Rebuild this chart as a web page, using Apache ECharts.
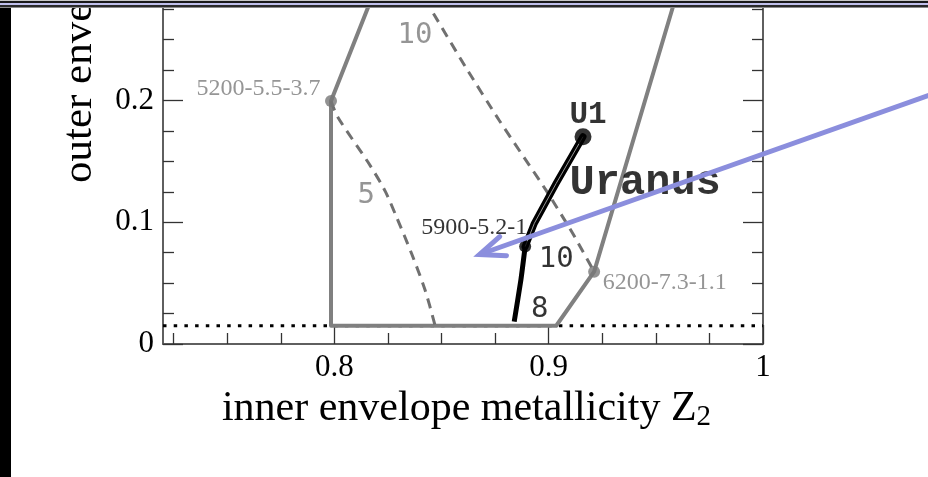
<!DOCTYPE html>
<html>
<head>
<meta charset="utf-8">
<script src="https://cdn.jsdelivr.net/npm/echarts@6/dist/echarts.min.js"></script>
<style>
  html, body { margin: 0; padding: 0; background: #fff; overflow: hidden; }
  #chart { width: 928px; height: 477px; }
</style>
</head>
<body>
<div id="chart"></div>
<script>
// Inner envelope metallicity Z2 (x) against outer envelope metallicity Z1 (y)

// Solid boundary of the allowed region
const boundaryZ2 = [0.8165, 0.7984, 0.7984, 0.9035, 0.9212, 0.9585];
const boundaryZ1 = [0.28, 0.1995, 0.015, 0.015, 0.0594, 0.28];

// Dashed contour "5"
const contour5Z2 = [0.7984, 0.8016, 0.8157, 0.8235, 0.829, 0.8359, 0.8423, 0.847];
const contour5Z1 = [0.1995, 0.1862, 0.1492, 0.1261, 0.1042, 0.0747, 0.0443, 0.015];

// Dashed contour "10"
const contour10Z2 = [0.8462, 0.8611, 0.8768, 0.8988, 0.9111, 0.9212];
const contour10Z1 = [0.2714, 0.2277, 0.1839, 0.1261, 0.0911, 0.0594];

// Uranus model track, from U1 down to the lower boundary
const uranusZ2 = [0.916, 0.9035, 0.8933, 0.889, 0.887, 0.8839];
const uranusZ1 = [0.1702, 0.1319, 0.0991, 0.08, 0.0525, 0.0183];

// Horizontal dotted reference level
const dottedZ2 = [0.72, 1.0];
const dottedZ1 = [0.015, 0.015];

// Annotation arrow (tail, tip)
const arrowZ2 = [1.09, 0.8677];
const arrowZ1 = [0.212, 0.0735];

// Axis ticks
const xMajorTicks = [0.8, 0.9, 1.0];
const xMinorTicks = [0.725, 0.75, 0.775, 0.825, 0.85, 0.875, 0.925, 0.95, 0.975];
const yMajorTicks = [0, 0.1, 0.2];
const yMinorTicks = [0.025, 0.05, 0.075, 0.125, 0.15, 0.175, 0.225, 0.25, 0.275];

const SERIF = 'Liberation Serif';
const MONO = 'Liberation Mono';
const SANSMONO = 'DejaVu Sans Mono';
const GRAY = '#7a7a7a';
const AXIS = '#555555';

const pts = (xs, ys) => xs.map((x, i) => [x, ys[i]]);

const gridBox = { left: 163, right: 165, top: 3, bottom: 133 };

function xAxisDef(gridIndex, ticks, len, labels) {
  return {
    type: 'value', gridIndex, min: 0.72, max: 1.0, position: 'bottom',
    axisLine: { show: true, onZero: false, lineStyle: { color: AXIS, width: 1.5 } },
    axisTick: { show: true, inside: true, length: len, customValues: ticks,
                lineStyle: { color: '#333', width: 1.3 } },
    axisLabel: labels ? {
      show: true, customValues: xMajorTicks, margin: 8,
      fontFamily: SERIF, fontSize: 31, color: '#000',
      formatter: v => String(+v.toFixed(2))
    } : { show: false },
    splitLine: { show: false }
  };
}

function yAxisDef(gridIndex, position, ticks, len, labels) {
  return {
    type: 'value', gridIndex, min: 0, max: 0.28, position,
    axisLine: { show: true, onZero: false, lineStyle: { color: AXIS, width: 1.5 } },
    axisTick: { show: true, inside: true, length: len, customValues: ticks,
                lineStyle: { color: '#333', width: 1.3 } },
    axisLabel: labels ? {
      show: true, customValues: yMajorTicks, margin: 9,
      fontFamily: SERIF, fontSize: 31, color: '#000',
      formatter: v => String(+v.toFixed(2))
    } : { show: false },
    splitLine: { show: false }
  };
}

const xAxes = [xAxisDef(0, xMajorTicks, 19, true), xAxisDef(1, xMinorTicks, 11, false)];
xAxes[0].name = '{t|inner envelope metallicity Z}{s|2}';
xAxes[0].nameLocation = 'middle';
xAxes[0].nameGap = 40;
xAxes[0].nameTextStyle = {
  fontFamily: SERIF, fontSize: 42, color: '#000', padding: [0, 0, 0, 7],
  rich: {
    t: { fontFamily: SERIF, fontSize: 42, color: '#000' },
    s: { fontFamily: SERIF, fontSize: 29, color: '#000', padding: [16, 0, 0, 0] }
  }
};

const yAxes = [
  yAxisDef(0, 'left', yMajorTicks, 20, true),
  yAxisDef(0, 'right', yMajorTicks, 20, false),
  yAxisDef(1, 'left', yMinorTicks, 11, false),
  yAxisDef(1, 'right', yMinorTicks, 11, false)
];

const lineBase = { type: 'line', xAxisIndex: 0, yAxisIndex: 0, symbol: 'none', silent: true, animation: false };

const labelStyle = (text, font, size, color, align, offset, weight) => ({
  show: true, position: 'inside', formatter: text, fontFamily: font, fontSize: size,
  color, align, verticalAlign: 'middle', offset, fontWeight: weight || 'normal'
});

const series = [
  Object.assign({}, lineBase, {
    name: 'dotted', z: 1, data: pts(dottedZ2, dottedZ1),
    lineStyle: { color: '#000', width: 3, type: [3.5, 7.2] }
  }),
  Object.assign({}, lineBase, {
    name: 'boundary', z: 2, data: pts(boundaryZ2, boundaryZ1),
    lineStyle: { color: '#808080', width: 4, join: 'round' }
  }),
  Object.assign({}, lineBase, {
    name: 'contour 5', z: 3, smooth: 0.3, data: pts(contour5Z2, contour5Z1),
    lineStyle: { color: '#707070', width: 3, type: [10, 7] }
  }),
  Object.assign({}, lineBase, {
    name: 'contour 10', z: 3, smooth: 0.2, data: pts(contour10Z2, contour10Z1),
    lineStyle: { color: '#707070', width: 3, type: [10, 7] }
  }),
  Object.assign({}, lineBase, {
    name: 'Uranus upper', z: 4, data: pts(uranusZ2, uranusZ1).slice(0, 4),
    lineStyle: { color: '#000', width: 7, cap: 'round', join: 'round' }
  }),
  Object.assign({}, lineBase, {
    name: 'Uranus upper core', z: 5, data: pts(uranusZ2, uranusZ1).slice(0, 4),
    lineStyle: { color: '#9a9a9a', width: 1 }
  }),
  Object.assign({}, lineBase, {
    name: 'Uranus lower', z: 4, smooth: 0.2, data: pts(uranusZ2, uranusZ1).slice(3),
    lineStyle: { color: '#000', width: 5, join: 'round' }
  }),
  {
    type: 'scatter', name: 'gray markers', z: 6, silent: true, animation: false,
    symbolSize: 12, itemStyle: { color: '#777' },
    data: [[boundaryZ2[1], boundaryZ1[1]], [boundaryZ2[4], boundaryZ1[4]]]
  },
  {
    type: 'scatter', name: 'black markers', z: 6, silent: true, animation: false,
    itemStyle: { color: '#000' },
    data: [
      { value: [uranusZ2[0], uranusZ1[0]], symbolSize: 17 },
      { value: [uranusZ2[3], uranusZ1[3]], symbolSize: 12 }
    ]
  },
  {
    type: 'scatter', name: 'labels', z: 7, silent: true, animation: false,
    symbolSize: 1, itemStyle: { color: 'rgba(0,0,0,0)' },
    data: [
      { value: [boundaryZ2[1], boundaryZ1[1]],
        label: labelStyle('5200-5.5-3.7', SERIF, 24, GRAY, 'right', [-10.5, -12]) },
      { value: [boundaryZ2[4], boundaryZ1[4]],
        label: labelStyle('6200-7.3-1.1', SERIF, 24, GRAY, 'left', [8.5, 11.5]) },
      { value: [uranusZ2[3], uranusZ1[3]],
        label: labelStyle('5900-5.2-1', SERIF, 24, '#000', 'right', [2, -18.5]) },
      { value: [uranusZ2[0], uranusZ1[0]],
        label: labelStyle('U1', MONO, 31, '#000', 'center', [5, -22], 'bold') },
      { value: [uranusZ2[1], uranusZ1[1]],
        label: labelStyle('Uranus', MONO, 42, '#000', 'center', [89, 0], 'bold') },
      { value: [uranusZ2[3], uranusZ1[3]],
        label: labelStyle('10', SANSMONO, 29, '#000', 'center', [31, 13]) },
      { value: [uranusZ2[5], uranusZ1[5]],
        label: labelStyle('8', SANSMONO, 29, '#000', 'center', [25.5, -12]) },
      { value: [contour5Z2[3], contour5Z1[3]],
        label: labelStyle('5', SANSMONO, 29, GRAY, 'center', [-18.5, 5.5]) },
      { value: [contour10Z2[0], contour10Z1[0]],
        label: labelStyle('10', SANSMONO, 29, GRAY, 'center', [-18.5, 21.5]) }
    ]
  }
];

// Slide frame: rules across the top and the dark bar on the left
const frame = [
  { id: 'ytitle', type: 'text', x: 80, y: 183, rotation: Math.PI / 2, z: 50,
    style: { text: 'outer envelope metallicity Z₁', font: '43px "Liberation Serif"',
             fill: '#000', align: 'left', verticalAlign: 'middle' } },
  { id: 'f0', type: 'rect', z: 100, shape: { x: 0, y: 0, width: 928, height: 1 }, style: { fill: '#c8c8c8' } },
  { id: 'f1', type: 'rect', z: 100, shape: { x: 0, y: 1, width: 928, height: 2 }, style: { fill: '#1a1a1a' } },
  { id: 'f2', type: 'rect', z: 100, shape: { x: 0, y: 3, width: 928, height: 2 }, style: { fill: '#c0c0ec' } },
  { id: 'f3', type: 'rect', z: 100, shape: { x: 0, y: 5, width: 928, height: 2 }, style: { fill: '#2a2a2a' } },
  { id: 'f4', type: 'rect', z: 100, shape: { x: 0, y: 7, width: 928, height: 1 }, style: { fill: '#8a8a8a' } },
  { id: 'f5', type: 'rect', z: 100, shape: { x: 0, y: 8, width: 11, height: 469 }, style: { fill: '#000' } }
];
</script>
<script>
const chart = echarts.init(document.getElementById('chart'));
chart.setOption({
  animation: false,
  backgroundColor: '#fff',
  grid: [Object.assign({}, gridBox), Object.assign({}, gridBox)],
  xAxis: xAxes,
  yAxis: yAxes,
  series: series,
  graphic: { elements: frame }
});

// Annotation arrow, placed through the chart's own coordinate mapping
const tail = chart.convertToPixel({ gridIndex: 0 }, [arrowZ2[0], arrowZ1[0]]);
const tip = chart.convertToPixel({ gridIndex: 0 }, [arrowZ2[1], arrowZ1[1]]);
const dx = tail[0] - tip[0], dy = tail[1] - tip[1];
const len = Math.hypot(dx, dy);
const ux = dx / len, uy = dy / len;
const headLen = 27, headAng = 22 * Math.PI / 180;
const rot = (a) => [tip[0] + headLen * (ux * Math.cos(a) - uy * Math.sin(a)),
                    tip[1] + headLen * (ux * Math.sin(a) + uy * Math.cos(a))];
const ARROW = '#8b8edd';
chart.setOption({
  graphic: { elements: [
    { id: 'arrowShaft', type: 'line', z: 60,
      shape: { x1: tail[0], y1: tail[1], x2: tip[0], y2: tip[1] },
      style: { stroke: ARROW, lineWidth: 5 } },
    { id: 'arrowHead', type: 'polyline', z: 60,
      shape: { points: [rot(headAng), tip, rot(-headAng)] },
      style: { stroke: ARROW, lineWidth: 5, fill: null, lineJoin: 'miter', lineCap: 'round' } }
  ] }
});
</script>
</body>
</html>
